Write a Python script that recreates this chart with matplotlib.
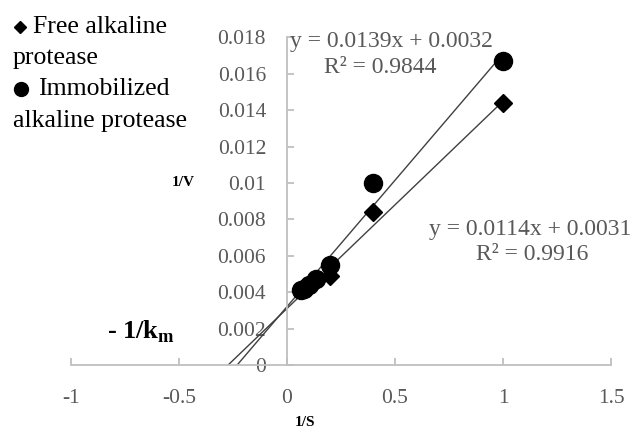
import matplotlib
matplotlib.use("Agg")
import matplotlib.pyplot as plt
import numpy as np
from matplotlib.lines import Line2D
from matplotlib.ticker import FuncFormatter

plt.rcParams["font.family"] = ["Liberation Serif", "DejaVu Serif"]
plt.rcParams["mathtext.fontset"] = "custom"
plt.rcParams["mathtext.rm"] = "Liberation Serif"
plt.rcParams["mathtext.bf"] = "Liberation Serif:bold"

# reciprocal substrate concentration and reciprocal velocity
inv_s = [1.0, 0.4, 0.2, 0.1333, 0.1, 0.08, 0.0667]
free_inv_v = [0.0144, 0.0084, 0.0049, 0.0046, 0.0044, 0.0042, 0.0041]
immob_inv_v = [0.0167, 0.0100, 0.0055, 0.0047, 0.0044, 0.0042, 0.0041]

# linear fits (slope, intercept, r2)
free_fit = (0.0114, 0.0031, 0.9916)
immob_fit = (0.0139, 0.0032, 0.9844)

x_ticks = [-1, -0.5, 0, 0.5, 1, 1.5]
y_ticks = [0, 0.002, 0.004, 0.006, 0.008, 0.01, 0.012, 0.014, 0.016, 0.018]

GRAY_TXT = "#595959"
AXIS = "#bfbfbf"
LINE = "#404040"

fig = plt.figure(figsize=(6.34, 4.32), dpi=100)
ax = fig.add_axes([0.1115, 0.1551, 0.8527, 0.7586])
ax.set_xlim(-1, 1.5)
ax.set_ylim(0, 0.018)

for side in ("top", "right"):
    ax.spines[side].set_visible(False)
ax.spines["left"].set_position(("data", 0))
ax.spines["bottom"].set_position(("data", 0))
for side in ("left", "bottom"):
    ax.spines[side].set_color(AXIS)
    ax.spines[side].set_linewidth(1.3)

ax.set_xticks(x_ticks)
ax.set_yticks(y_ticks)
fmt = FuncFormatter(lambda v, pos: "%g" % v)
ax.xaxis.set_major_formatter(fmt)
ax.yaxis.set_major_formatter(fmt)
ax.tick_params(axis="both", direction="in", length=5, width=1.3, color=AXIS,
               labelcolor=GRAY_TXT, labelsize=15.5)
ax.tick_params(axis="x", pad=17)
ax.tick_params(axis="y", pad=15)

# trendlines from the x-intercept up to the last point
for slope, icpt, _ in (free_fit, immob_fit):
    xs = np.array([-icpt / slope, max(inv_s)])
    ax.plot(xs, slope * xs + icpt, color=LINE, lw=1.0, zorder=2)

ax.plot(inv_s, free_inv_v, "D", color="black", ms=9, ls="none", zorder=3,
        clip_on=False)
ax.plot(inv_s, immob_inv_v, "o", color="black", ms=13, ls="none", zorder=3,
        clip_on=False)

# fit equations
ax.text(0.015, 0.01775, "y = %.4fx + %.4f" % immob_fit[:2], fontsize=17,
        color=GRAY_TXT, ha="left", va="center")
ax.text(0.43, 0.01632, "R² = %.4f" % immob_fit[2], fontsize=17,
        color=GRAY_TXT, ha="center", va="center")
fig.text(631 / 634, 1 - 230 / 432, "y = %.4fx + %.4f" % free_fit[:2],
         fontsize=17, color=GRAY_TXT, ha="right", va="center")
fig.text(532 / 634, 1 - 255 / 432, "R² = %.4f" % free_fit[2], fontsize=17,
         color=GRAY_TXT, ha="center", va="center")

# axis titles
fig.text(183 / 634, 1 - 182 / 432, "1/V", fontsize=11, fontweight="bold",
         ha="center", va="center")
fig.text(305 / 634, 1 - 423 / 432, "1/S", fontsize=11, fontweight="bold",
         ha="center", va="center")
fig.text(107 / 634, 1 - 332 / 432, r"- 1/k$_{\mathbf{m}}$", fontsize=19,
         fontweight="bold", ha="left", va="center")

# legend drawn inline with the labels
fig.add_artist(Line2D([20 / 634], [1 - 27 / 432], marker="D", color="black",
                      ms=6, ls="none", transform=fig.transFigure))
fig.add_artist(Line2D([21 / 634], [1 - 89 / 432], marker="o", color="black",
                      ms=10, ls="none", transform=fig.transFigure))
legend_lines = [
    (33, 27, "Free alkaline"),
    (13, 58, "protease"),
    (38, 89, "Immobilized"),
    (13, 121, "alkaline protease"),
]
for px, py, txt in legend_lines:
    fig.text(px / 634, 1 - py / 432, txt, fontsize=18.5, color="black",
             ha="left", va="center")

fig.savefig("out.png", dpi=100)
